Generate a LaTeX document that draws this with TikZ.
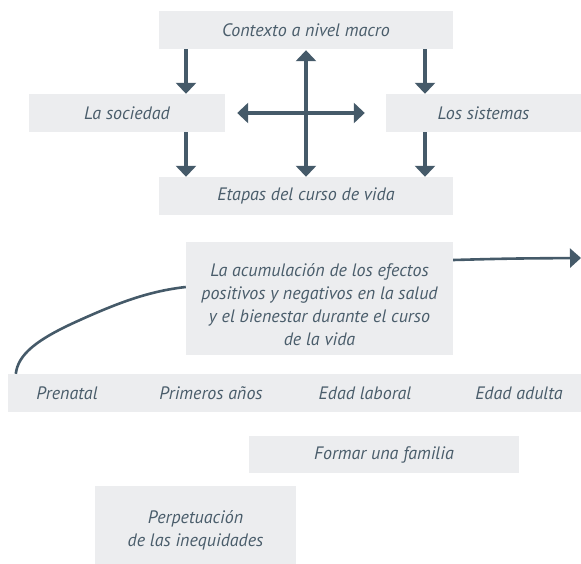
\documentclass[tikz,border=0pt]{standalone}
\usepackage{fontspec}
\setmainfont{PT Sans}
\usetikzlibrary{arrows.meta}
\definecolor{boxgray}{HTML}{ECEDEF}
\definecolor{txt}{HTML}{4A5D6B}
\definecolor{arr}{HTML}{455A69}
\tikzset{
  box/.style={fill=boxgray, inner sep=0pt, align=center, text=txt, font=\fontsize{18}{23}\selectfont\itshape},
  lbl/.style={inner sep=0pt, align=center, text=txt, font=\fontsize{18}{23}\selectfont\itshape},
  bigarrow/.style={draw=arr, line width=3.2pt, -{Triangle[width=20pt,length=11pt]}},
  bigarrows/.style={draw=arr, line width=3.2pt, {Triangle[width=20pt,length=11pt]}-{Triangle[width=20pt,length=11pt]}},
  thinarrow/.style={draw=arr, line width=2.6pt, -{Triangle[width=19pt,length=11pt]}},
  thinline/.style={draw=arr, line width=2.6pt}
}
\begin{document}
\begin{tikzpicture}[x=1pt,y=-1pt]
\useasboundingbox (0,0) rectangle (581,564);
\node[box, minimum width=294pt, minimum height=38pt] (ctx) at (306,30) {Contexto a nivel macro};
\node[box, minimum width=196pt, minimum height=38pt] (soc) at (127,113) {La sociedad};
\node[box, minimum width=195pt, minimum height=38pt] (sis) at (483.5,113) {Los sistemas};
\node[box, minimum width=294pt, minimum height=38pt] (eta) at (306,196) {Etapas del curso de vida};
\node[box, minimum width=267pt, minimum height=113pt] (acc) at (319.5,298.5) {};
\node[lbl] (acctext) at ([yshift=-6pt]acc.center) {La acumulación de los efectos\\positivos y negativos en la salud\\y el bienestar durante el curso\\de la vida};
\node[box, minimum width=573pt, minimum height=38pt] (strip) at (294.5,393) {};
\node[lbl] (pre) at (67,393) {Prenatal};
\node[lbl] (pri) at (211,393) {Primeros años};
\node[lbl] (lab) at (365,393) {Edad laboral};
\node[lbl] (adu) at (519,393) {Edad adulta};
\node[box, minimum width=270pt, minimum height=37pt] (fam) at (384,454.5) {Formar una familia};
\node[box, minimum width=201pt, minimum height=78pt] (perp) at (195.5,525) {};
\node[lbl] (perptext) at ([yshift=-5pt]perp.center) {Perpetuación\\de las inequidades};
\coordinate (xl) at (186,0);
\coordinate (xr) at (425,0);
\coordinate (fin) at (581,258);
\coordinate (bend) at (80,320);
\draw[bigarrow] (xl |- ctx.south) -- (xl |- soc.north);
\draw[bigarrow] (xr |- ctx.south) -- (xr |- sis.north);
\draw[bigarrow] (xl |- soc.south) -- (xl |- eta.north);
\draw[bigarrow] (xr |- sis.south) -- (xr |- eta.north);
\draw[bigarrows] ([yshift=-1pt]ctx.south) -- (eta.north);
\draw[bigarrows] ([xshift=12pt]soc.east) -- ([xshift=-21pt]sis.west);
\draw[thinarrow] ([yshift=38.5pt]acc.east) .. controls (510,258.5) .. (fin);
\draw[thinline] ([yshift=11.5pt]acc.west) .. controls (150,291) and (120,302) .. (bend) .. controls (35,340) and (18,355) .. ([xshift=8pt]strip.north west);
\end{tikzpicture}
\end{document}
